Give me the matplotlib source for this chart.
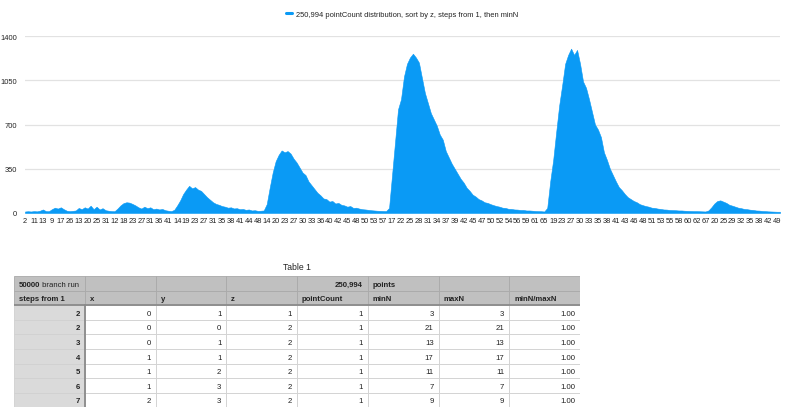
import numpy as np
import matplotlib
matplotlib.use("Agg")
import matplotlib.pyplot as plt
from matplotlib.patches import Rectangle
from matplotlib.lines import Line2D

plt.rcParams['font.family'] = ['Liberation Sans', 'DejaVu Sans']

# ---- chart data (pointCount per row) ----
point_counts = [
    12, 14, 12, 15, 13, 18, 28, 15, 14, 30, 42, 35, 45, 30, 18, 15, 17, 20, 40, 30,
    45, 35, 58, 30, 50, 28, 38, 22, 18, 15, 14, 35, 60, 78, 85, 82, 72, 60, 45, 35,
    50, 38, 45, 30, 35, 28, 32, 22, 18, 15, 25, 60, 100, 150, 185, 215, 195, 205, 185, 175,
    150, 125, 105, 85, 72, 65, 55, 50, 42, 45, 36, 38, 30, 32, 25, 28, 20, 22, 17, 18,
    20, 70, 200, 320, 410, 460, 495, 480, 490, 470, 430, 400, 360, 320, 300, 250, 220, 190, 160, 140,
    115, 110, 90, 95, 75, 80, 65, 60, 50, 55, 40, 42, 35, 30, 28, 25, 22, 20, 18, 17,
    16, 15, 40, 300, 560, 820, 900, 1080, 1180, 1230, 1260, 1230, 1190, 1070, 950, 870, 790, 740, 690, 620,
    580, 490, 440, 390, 350, 310, 270, 240, 200, 175, 145, 130, 110, 100, 85, 80, 70, 62, 55, 50,
    42, 40, 33, 32, 28, 27, 24, 24, 20, 20, 18, 16, 15, 14, 12, 40, 250, 420, 640, 850,
    1010, 1180, 1250, 1300, 1250, 1290, 1180, 1040, 990, 900, 800, 700, 660, 600, 480, 420, 350, 300, 250, 205,
    180, 150, 125, 110, 95, 85, 70, 62, 55, 50, 42, 40, 35, 32, 28, 27, 24, 23, 22, 20,
    20, 18, 17, 16, 15, 15, 14, 13, 12, 20, 45, 75, 95, 100, 90, 80, 65, 58, 50, 42,
    38, 32, 30, 26, 24, 20, 19, 16, 15, 13, 12, 11, 10, 10,
]

# category labels shown on the x axis (every third row)
x_labels = [
    2, 11, 13, 9, 17, 26, 13, 20, 25, 31, 12, 18, 23, 27, 31, 36, 41,
    14, 19, 23, 27, 31, 35, 38, 41, 44, 48,
    14, 20, 23, 27, 30, 33, 36, 40, 42, 45, 48, 50, 53, 57,
    17, 22, 25, 28, 31, 34, 37, 39, 42, 45, 47, 50, 52, 54, 56, 59, 61, 65,
    19, 23, 27, 30, 33, 35, 38, 41, 43, 46, 48, 51, 53, 55, 58, 60, 62, 67,
    20, 25, 29, 32, 35, 38, 42, 49,
]
y_ticks = [0, 350, 700, 1050, 1400]
series_name = "250,994 pointCount distribution, sort by z, steps from 1, then minN"

# ---- table data ----
col_headers = ["steps from 1", "x", "y", "z", "pointCount", "minN", "maxN", "minN/maxN"]
steps = [2, 2, 3, 4, 5, 6, 7]
xs = [0, 0, 0, 1, 1, 1, 2]
ys = [1, 0, 1, 1, 2, 3, 3]
zs = [1, 2, 2, 2, 2, 2, 2]
pcount = [1, 1, 1, 1, 1, 1, 1]
min_n = [3, 21, 13, 17, 11, 7, 9]
max_n = [3, 21, 13, 17, 11, 7, 9]

blue = "#0a9af5"
txt = "#222222"

fig = plt.figure(figsize=(8, 4.1), dpi=100)

# ---- area chart ----
ax = fig.add_axes([25 / 800, 1 - 214 / 410, 755 / 800, 177 / 410])
idx = np.arange(len(point_counts))
ax.fill_between(idx, point_counts, 0, color=blue, linewidth=0.4, edgecolor=blue)
ax.set_xlim(0, len(point_counts) - 1)
ax.set_ylim(0, 1400)
ax.set_yticks(y_ticks)
ax.set_yticklabels([str(v) for v in y_ticks], fontsize=5.4, color=txt)
ax.set_xticks(np.arange(len(x_labels)) * 3)
ax.set_xticklabels([str(v) for v in x_labels], fontsize=5.4, color=txt)
ax.tick_params(length=0, pad=3)
ax.tick_params(axis='y', pad=5.5)
ax.grid(axis='y', color='#e2e2e2', linewidth=0.9)
ax.set_axisbelow(True)
for s in ax.spines.values():
    s.set_visible(False)

handle = Line2D([], [], color=blue, linewidth=2.2, solid_capstyle='round')
fig.legend([handle], [series_name], loc='center', bbox_to_anchor=(0.503, 1 - 15 / 410),
           frameon=False, fontsize=5.4, handlelength=0.7, handletextpad=0.6,
           labelcolor=txt)

# ---- table ----
fig.text(297 / 800, 1 - 268 / 410, "Table 1", ha='center', va='center', fontsize=6.2, color=txt)
tax = fig.add_axes([14 / 800, 1 - 408.4 / 410, 566 / 800, 131.4 / 410])
n_cols = len(col_headers)
n_rows = 2 + len(steps)
tax.set_xlim(0, n_cols)
tax.set_ylim(n_rows, 0)
tax.axis('off')

head_bg = "#c0c0c0"
side_bg = "#dadada"
for r in range(n_rows):
    for c in range(n_cols):
        if r < 2:
            fc = head_bg
        elif c == 0:
            fc = side_bg
        else:
            fc = "white"
        ec = "#a9a9a9" if r < 2 else "#d0d0d0"
        tax.add_patch(Rectangle((c, r), 1, 1, facecolor=fc, edgecolor=ec, linewidth=0.6))

# heavier rules under the header and right of the first column
tax.plot([0, n_cols], [2, 2], color="#8a8a8a", linewidth=1.3)
tax.plot([1, 1], [2, n_rows], color="#8a8a8a", linewidth=1.3)

fs = 5.6
pad = 0.07
# header row 1
t1 = tax.text(pad, 0.55, "50000", ha='left', va='center', fontsize=fs, fontweight='bold', color=txt)
tax.annotate(" branch run", xy=(1, 0.5), xycoords=t1, ha='left', va='center',
             fontsize=fs, color=txt)
tax.text(5 - pad, 0.55, "250,994", ha='right', va='center', fontsize=fs, fontweight='bold', color=txt)
tax.text(5 + pad, 0.55, "points", ha='left', va='center', fontsize=fs, fontweight='bold', color=txt)
# header row 2
for c, h in enumerate(col_headers):
    tax.text(c + pad, 1.55, h, ha='left', va='center', fontsize=fs, fontweight='bold', color=txt)
# body
rows = list(zip(steps, xs, ys, zs, pcount, min_n, max_n))
for i, row in enumerate(rows):
    r = 2 + i
    vals = [str(v) for v in row] + ["%.2f" % (row[5] / row[6])]
    for c, v in enumerate(vals):
        tax.text(c + 1 - pad, r + 0.55, v, ha='right', va='center', fontsize=fs,
                 fontweight='bold' if c == 0 else 'normal', color=txt)

fig.savefig("out.png", dpi=100)
